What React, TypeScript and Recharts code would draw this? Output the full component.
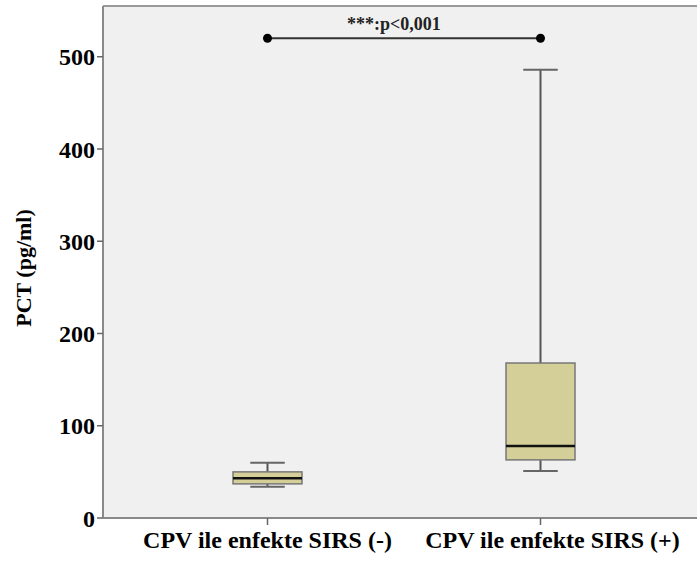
import {
  ComposedChart,
  Bar,
  XAxis,
  YAxis,
  CartesianGrid,
  ReferenceLine,
  ReferenceDot,
} from 'recharts';

// values (PCT, pg/ml)
const groups = ['CPV ile enfekte SIRS (-)', 'CPV ile enfekte SIRS (+)'];
const whiskerLow = [34, 51];
const q1 = [37, 63];
const median = [43, 78];
const q3 = [50, 168];
const whiskerHigh = [60, 486];
const yTicks = [0, 100, 200, 300, 400, 500];
const sigLevel = 520;
const sigText = '***:p<0,001';

const data = groups.map((group, i) => ({
  group,
  low: whiskerLow[i],
  q1: q1[i],
  median: median[i],
  q3: q3[i],
  high: whiskerHigh[i],
}));

const serif = '"Liberation Serif", "Times New Roman", serif';
const axisGray = '#8a8a8a';
// the second category label sits a little right of its tick in the original
const labelShift = [0, 12];

// box drawn inside the [low, high] range bar, so y pixels come from the bar's own scale
const BoxShape = (props: any) => {
  const { x, y, width, height, payload } = props;
  const top = Math.min(y, y + height);
  const h = Math.abs(height);
  const k = h / (payload.high - payload.low);
  const py = (v: number) => top + (payload.high - v) * k;
  const cx = x + width / 2;
  const cap = width / 4;
  return (
    <g>
      <line x1={cx} x2={cx} y1={py(payload.high)} y2={py(payload.q3)} stroke="#555" strokeWidth={2} />
      <line x1={cx} x2={cx} y1={py(payload.q1)} y2={py(payload.low)} stroke="#555" strokeWidth={2} />
      <line x1={cx - cap} x2={cx + cap} y1={py(payload.high)} y2={py(payload.high)} stroke="#666" strokeWidth={2} />
      <line x1={cx - cap} x2={cx + cap} y1={py(payload.low)} y2={py(payload.low)} stroke="#666" strokeWidth={2} />
      <rect
        x={x}
        y={py(payload.q3)}
        width={width}
        height={py(payload.q1) - py(payload.q3)}
        fill="#d4cf98"
        stroke="#777"
        strokeWidth={1.5}
      />
      <line x1={x} x2={x + width} y1={py(payload.median)} y2={py(payload.median)} stroke="#111" strokeWidth={2.5} />
    </g>
  );
};

const GroupTick = (props: any) => {
  const { x, y, payload, index } = props;
  return (
    <text
      x={x + (labelShift[index] || 0)}
      y={y}
      dy="0.71em"
      textAnchor="middle"
      fontFamily={serif}
      fontWeight="bold"
      fontSize={24}
      fill="#000"
    >
      {payload.value}
    </text>
  );
};

const YLabel = (props: any) => {
  const vb = props.viewBox || {};
  const cx = 23;
  const cy = vb.y + vb.height / 2 + 6;
  return (
    <text
      x={cx}
      y={cy}
      transform={`rotate(-90, ${cx}, ${cy})`}
      textAnchor="middle"
      dominantBaseline="central"
      fontFamily={serif}
      fontWeight="bold"
      fontSize={22}
      fill="#000"
    >
      PCT (pg/ml)
    </text>
  );
};

export default function App() {
  return (
    <div style={{ position: 'absolute', left: 0, top: 0, background: '#fff' }}>
      <ComposedChart width={697} height={563} data={data} margin={{ top: 6, right: 0, bottom: 0, left: 0 }}>
        <CartesianGrid horizontal={false} vertical={false} fill="#f0f0f0" />
        <XAxis
          dataKey="group"
          type="category"
          interval={0}
          height={45}
          padding={{ left: 28, right: 20 }}
          axisLine={{ stroke: axisGray, strokeWidth: 2 }}
          tickLine={{ stroke: '#666', strokeWidth: 1.5 }}
          tickSize={7}
          tickMargin={6}
          tick={<GroupTick />}
        />
        <YAxis
          type="number"
          domain={[0, 555]}
          ticks={yTicks}
          width={103}
          axisLine={{ stroke: axisGray, strokeWidth: 2 }}
          tickLine={{ stroke: '#666', strokeWidth: 1.5 }}
          tickSize={6}
          tickMargin={2}
          tick={{ fontFamily: serif, fontWeight: 'bold', fontSize: 24, fill: '#000' }}
          label={<YLabel />}
        />
        <ReferenceLine y={555} stroke="#999" strokeWidth={2} />
        <Bar
          dataKey={(d: any) => [d.low, d.high]}
          barSize={69}
          shape={<BoxShape />}
          isAnimationActive={false}
        />
        <ReferenceLine
          segment={[
            { x: groups[0], y: sigLevel },
            { x: groups[1], y: sigLevel },
          ]}
          stroke="#333"
          strokeWidth={2}
          label={{
            value: sigText,
            position: 'top',
            offset: 8,
            dx: -10,
            style: { fontFamily: serif, fontWeight: 'bold', fontSize: 18, fill: '#222' },
          }}
        />
        <ReferenceDot x={groups[0]} y={sigLevel} r={4.5} fill="#000" stroke="none" />
        <ReferenceDot x={groups[1]} y={sigLevel} r={4.5} fill="#000" stroke="none" />
      </ComposedChart>
    </div>
  );
}
